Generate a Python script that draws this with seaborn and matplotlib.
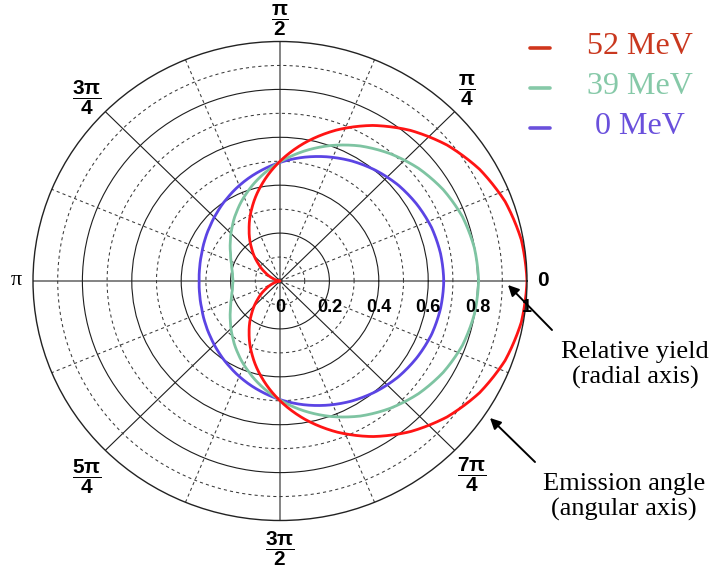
import numpy as np
import pandas as pd
import matplotlib
matplotlib.use("Agg")
import matplotlib.pyplot as plt
import seaborn as sns
from matplotlib.ticker import FixedLocator, NullFormatter
from matplotlib.transforms import offset_copy
from matplotlib.lines import Line2D

# ---------------- data ----------------
angles_deg = [0, 10, 20, 30, 40, 50, 60, 70, 80, 90, 100, 110, 120, 130, 140, 150, 160, 170, 180,
              190, 200, 210, 220, 230, 240, 250, 260, 270, 280, 290, 300, 310, 320, 330, 340, 350, 360]
yield_52 = [1.000, 0.992, 0.970, 0.933, 0.883, 0.821, 0.750, 0.671, 0.587, 0.500, 0.413, 0.329, 0.250,
            0.179, 0.117, 0.067, 0.030, 0.008, 0.000, 0.008, 0.030, 0.067, 0.117, 0.179, 0.250, 0.329,
            0.413, 0.500, 0.587, 0.671, 0.750, 0.821, 0.883, 0.933, 0.970, 0.992, 1.000]
yield_39 = [0.804, 0.799, 0.786, 0.763, 0.732, 0.694, 0.651, 0.602, 0.550, 0.497, 0.444, 0.392, 0.344,
            0.300, 0.262, 0.231, 0.209, 0.195, 0.190, 0.195, 0.209, 0.231, 0.262, 0.300, 0.344, 0.392,
            0.444, 0.497, 0.550, 0.602, 0.651, 0.694, 0.732, 0.763, 0.786, 0.799, 0.804]
yield_0 = [0.663, 0.660, 0.653, 0.640, 0.624, 0.603, 0.579, 0.552, 0.524, 0.495, 0.466, 0.438, 0.411,
           0.387, 0.366, 0.350, 0.337, 0.330, 0.327, 0.330, 0.337, 0.350, 0.366, 0.387, 0.411, 0.438,
           0.466, 0.495, 0.524, 0.552, 0.579, 0.603, 0.624, 0.640, 0.653, 0.660, 0.663]
series_labels = ["52 MeV", "39 MeV", "0 MeV"]

radial_major = [0.2, 0.4, 0.6, 0.8]
radial_minor = [0.1, 0.3, 0.5, 0.7, 0.9]
radial_label_values = [0, 0.2, 0.4, 0.6, 0.8, 1.0]
radial_label_texts = ["0", "0.2", "0.4", "0.6", "0.8", "1"]
angle_major_deg = [0, 45, 90, 135, 180, 225, 270, 315]
angle_minor_deg = [22.5, 67.5, 112.5, 157.5, 202.5, 247.5, 292.5, 337.5]
angle_label_texts = [r"$\mathbf{0}$", r"$\mathbf{\dfrac{\pi}{4}}$", r"$\mathbf{\dfrac{\pi}{2}}$",
                     r"$\mathbf{\dfrac{3\pi}{4}}$", "π", r"$\mathbf{\dfrac{5\pi}{4}}$",
                     r"$\mathbf{\dfrac{3\pi}{2}}$", r"$\mathbf{\dfrac{7\pi}{4}}$"]

# ---------------- styling ----------------
sns.set_theme(style="white")
plt.rcParams["font.family"] = ["Liberation Sans", "DejaVu Sans"]
plt.rcParams["mathtext.fontset"] = "custom"
plt.rcParams["mathtext.bf"] = "Liberation Sans:bold"
plt.rcParams["mathtext.rm"] = "Liberation Sans"
plt.rcParams["mathtext.it"] = "Liberation Sans:italic"

line_colors = {"52 MeV": "#ff1414", "39 MeV": "#7ec4a2", "0 MeV": "#5b44e4"}
legend_text_colors = {"52 MeV": "#c9381f", "39 MeV": "#86c9a8", "0 MeV": "#6a50dc"}
legend_key_colors = {"52 MeV": "#d0361c", "39 MeV": "#86c9a8", "0 MeV": "#6a50dc"}

W, H = 714, 576
fig = plt.figure(figsize=(W / 100, H / 100), dpi=100)
cx, cy, rx, ry = 280, 281, 247, 239.5
ax = fig.add_axes([(cx - rx) / W, (H - cy - ry) / H, 2 * rx / W, 2 * ry / H], projection="polar")
ax.set_aspect("auto")

df = pd.DataFrame({
    "theta": np.deg2rad(angles_deg * 3),
    "r": yield_52 + yield_39 + yield_0,
    "series": [series_labels[0]] * len(angles_deg) + [series_labels[1]] * len(angles_deg)
              + [series_labels[2]] * len(angles_deg),
})
sns.lineplot(data=df, x="theta", y="r", hue="series", hue_order=["0 MeV", "39 MeV", "52 MeV"],
             palette=line_colors, sort=False, estimator=None, linewidth=2.0, legend=False, ax=ax)
# let the polar transform draw each segment as a smooth arc in (theta, r)
for ln in ax.lines:
    ln._path._interpolation_steps = 40
    ln.set_solid_joinstyle("round")
ax.set_xlabel("")
ax.set_ylabel("")

ax.set_ylim(0, 1.0)
ax.set_yticks(radial_major)
ax.yaxis.set_minor_locator(FixedLocator(radial_minor))
ax.set_yticklabels([])
ax.yaxis.set_minor_formatter(NullFormatter())
ax.set_xticks(np.deg2rad(angle_major_deg))
ax.xaxis.set_minor_locator(FixedLocator(np.deg2rad(angle_minor_deg)))
ax.set_xticklabels([])
ax.xaxis.set_minor_formatter(NullFormatter())
ax.tick_params(which="both", length=0)

ax.grid(True, which="major", color="#1e1e1e", linewidth=0.8, linestyle="-")
ax.grid(True, which="minor", color="#3a3a3a", linewidth=0.75, linestyle=(0, (3, 3)))
for i, gl in enumerate(ax.xaxis.get_gridlines()):
    if i % 2 == 0:
        gl.set_color("#7a7a7a")
        gl.set_linewidth(1.3)
ax.spines["polar"].set_color("#222222")
ax.spines["polar"].set_linewidth(1.0)

# radial value labels below the 0 axis
lab_tr = offset_copy(ax.transData, fig=fig, x=0, y=-26, units="dots")
for val, txt in zip(radial_label_values, radial_label_texts):
    ax.text(0, val, txt, transform=lab_tr, ha="center", va="center",
            fontsize=13, fontweight="bold", color="black", zorder=5)

# angular labels
angle_label_pos = [(0, 1.065), (46.5, 1.10), (90, 1.09), (135.6, 1.094),
                   (180, 1.066), (226.3, 1.13), (270, 1.12), (313.8, 1.122)]
for (deg, rr), txt in zip(angle_label_pos, angle_label_texts):
    if txt == "π":
        ax.text(np.deg2rad(deg), rr, txt, ha="center", va="center", fontsize=16,
                family=["Liberation Serif", "DejaVu Serif"], color="black", clip_on=False)
    else:
        ax.text(np.deg2rad(deg), rr, txt, ha="center", va="center", fontsize=15,
                color="black", clip_on=False)

# legend (manual, centred labels)
leg_y = [48, 88, 128]
for lab, yy in zip(series_labels, leg_y):
    fig.add_artist(Line2D([530 / W, 550 / W], [1 - yy / H, 1 - yy / H],
                          color=legend_key_colors[lab], linewidth=2.6))
    fig.text(640 / W, 1 - (yy - 1) / H, lab, ha="center", va="center", fontsize=23,
             family=["Liberation Serif", "DejaVu Serif"], color=legend_text_colors[lab])

# annotations
serif = ["Liberation Serif", "DejaVu Serif"]
fig.text(635 / W, 1 - 365 / H, "Relative yield\n(radial axis)", ha="center", va="center",
         fontsize=19, family=serif, linespacing=1.12, color="black")
fig.text(624 / W, 1 - 497 / H, "Emission angle\n(angular axis)", ha="center", va="center",
         fontsize=19, family=serif, linespacing=1.12, color="black")
arrow_kw = dict(arrowstyle="-|>", color="black", lw=1.4, mutation_scale=16, shrinkA=0, shrinkB=0)
ax.annotate("", xy=(508, H - 285), xytext=(552, H - 330), xycoords="figure pixels",
            textcoords="figure pixels", arrowprops=arrow_kw, annotation_clip=False)
ax.annotate("", xy=(490, H - 418), xytext=(535, H - 462), xycoords="figure pixels",
            textcoords="figure pixels", arrowprops=arrow_kw, annotation_clip=False)

fig.savefig("out.png", dpi=100, facecolor="white")
